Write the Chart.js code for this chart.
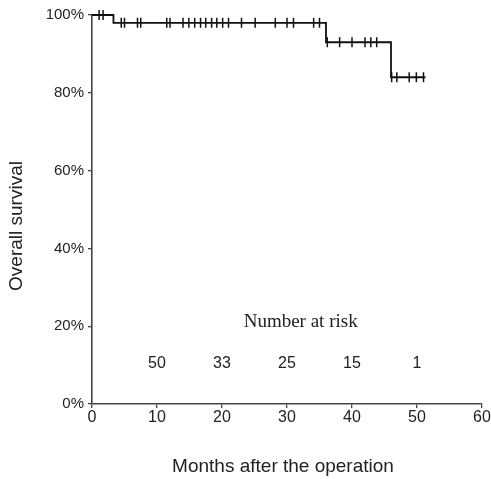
<!DOCTYPE html>
<html>
<head>
<meta charset="utf-8">
<script src="https://cdn.jsdelivr.net/npm/chart.js@4.4.1/dist/chart.umd.min.js"></script>
<style>
  html, body { margin: 0; padding: 0; background: #fff; }
  #wrap { width: 491px; height: 479px; }
</style>
</head>
<body>
<div id="wrap"><canvas id="km" width="491" height="479"></canvas></div>
<script>
// ---- data ----
const stepMonths   = [0, 3.3, 36, 46, 51.3];
const stepSurvival = [1.0, 0.98, 0.93, 0.84, 0.84];

const censor100 = [1.1, 1.7];
const censor98  = [4.5, 5.0, 7.0, 7.5, 11.5, 12.0, 14.0, 14.9, 15.8, 16.7, 17.5,
                   18.4, 19.2, 20.1, 21.0, 23.0, 25.1, 28.2, 30.0, 31.0, 34.1, 35.0];
const censor93  = [36.2, 38.1, 40.0, 42.0, 42.9, 43.8];
const censor84  = [46.1, 46.9, 48.8, 49.9, 51.0];

const riskMonths = [10, 20, 30, 40, 50];
const riskCounts = [50, 33, 25, 15, 1];

const xTicks = [0, 10, 20, 30, 40, 50, 60];
const yTicks = [0, 0.2, 0.4, 0.6, 0.8, 1.0];

// ---- datasets ----
const courbe = stepMonths.map((m, i) => ({ x: m, y: stepSurvival[i] }));
const censures = []
  .concat(censor100.map(m => ({ x: m, y: 1.0 })))
  .concat(censor98.map(m => ({ x: m, y: 0.98 })))
  .concat(censor93.map(m => ({ x: m, y: 0.93 })))
  .concat(censor84.map(m => ({ x: m, y: 0.84 })));

// textes dessinés à la main (titres + nombre à risque)
const textesPlugin = {
  id: "textes",
  afterDraw(chart) {
    const ctx = chart.ctx;
    const sx = chart.scales.x, sy = chart.scales.y;
    ctx.save();
    ctx.fillStyle = "#222";
    ctx.textAlign = "center";
    ctx.textBaseline = "middle";

    // titre axe X
    ctx.font = "19px 'Liberation Sans', Arial, sans-serif";
    ctx.fillText("Months after the operation", 283, 467);

    // titre axe Y
    ctx.save();
    ctx.translate(17, 226);
    ctx.rotate(-Math.PI / 2);
    ctx.fillText("Overall survival", 0, 0);
    ctx.restore();

    // nombre à risque
    ctx.font = "19px 'Liberation Serif', 'Times New Roman', serif";
    ctx.fillText("Number at risk", sx.getPixelForValue(32.1), sy.getPixelForValue(0.21));
    ctx.font = "16px 'Liberation Sans', Arial, sans-serif";
    riskMonths.forEach((m, i) => {
      ctx.fillText(String(riskCounts[i]), sx.getPixelForValue(m), sy.getPixelForValue(0.105));
    });
    ctx.restore();
  }
};

new Chart(document.getElementById("km").getContext("2d"), {
  type: "scatter",
  data: {
    datasets: [
      {
        type: "line",
        data: courbe,
        stepped: "before",
        borderColor: "#111",
        borderWidth: 1.8,
        pointRadius: 0,
        fill: false,
        clip: false
      },
      {
        data: censures,
        pointStyle: "line",
        rotation: 90,
        pointRadius: 5,
        borderColor: "#111",
        backgroundColor: "#111",
        borderWidth: 1.5,
        clip: false
      }
    ]
  },
  options: {
    responsive: false,
    animation: false,
    layout: { padding: { top: 15, right: 9, left: 0, bottom: 0 } },
    plugins: { legend: { display: false }, tooltip: { enabled: false } },
    scales: {
      x: {
        type: "linear",
        min: 0, max: 60,
        afterBuildTicks: s => { s.ticks = xTicks.map(v => ({ value: v })); },
        afterFit: s => { s.height = 75; },
        grid: { drawOnChartArea: false, drawTicks: true, tickLength: 4, color: "#444", lineWidth: 1.3 },
        border: { display: true, color: "#444", width: 1.6 },
        ticks: { padding: 0, color: "#222", font: { family: "'Liberation Sans', Arial, sans-serif", size: 16 } }
      },
      y: {
        type: "linear",
        min: 0, max: 1,
        afterBuildTicks: s => { s.ticks = yTicks.map(v => ({ value: v })); },
        afterFit: s => { s.width = 92; },
        grid: { drawOnChartArea: false, drawTicks: true, tickLength: 4, color: "#444", lineWidth: 1.3 },
        border: { display: true, color: "#444", width: 1.6 },
        ticks: {
          padding: 4,
          color: "#222",
          font: { family: "'Liberation Sans', Arial, sans-serif", size: 15 },
          callback: v => Math.round(v * 100) + "%"
        }
      }
    }
  },
  plugins: [textesPlugin]
});
</script>
</body>
</html>
